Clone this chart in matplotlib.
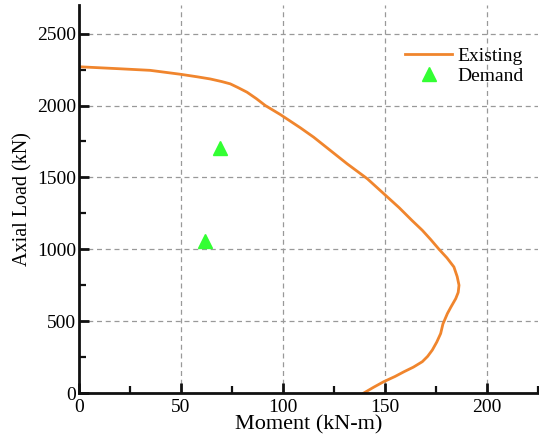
#!/usr/bin/env python3
"""P-M interaction diagram: existing column capacity vs demand points."""

import matplotlib

matplotlib.use("Agg")
import matplotlib.pyplot as plt
from matplotlib.ticker import MultipleLocator

# existing section capacity curve (moment kN-m, axial kN)
existing_moment = [0, 20, 34.9, 49.6, 58, 64.4, 70, 74.2, 78, 82.4, 87, 91.4, 98.8,
                   108.6, 115.1, 131.5, 141.4, 150.4, 157, 163.3, 168.4, 172.5,
                   176.6, 180.5, 183.9, 185.5, 186.4, 186, 184.8, 182.5, 180.7,
                   178.5, 177.4, 175.5, 173.3, 171, 168.4, 164, 159.4, 155, 149.5,
                   144.5, 139.7]
existing_axial = [2270, 2256, 2245, 2218, 2200, 2185, 2167, 2151, 2125, 2093, 2048,
                  2000, 1937, 1845, 1780, 1595, 1491, 1375, 1290, 1201, 1132, 1068,
                  1000, 940, 877, 810, 750, 700, 657, 600, 553,
                  480, 414, 355, 299, 255, 218, 180, 148, 115, 79,
                  40, 0]

# demand points
demand_moment = [69, 62]
demand_axial = [1705, 1060]

plt.rcParams["font.family"] = ["Liberation Serif", "DejaVu Serif"]

fig = plt.figure(figsize=(5.39, 4.38), dpi=100)
ax = fig.add_axes([0.1466, 0.1027, 0.851, 0.886])

ax.plot(existing_moment, existing_axial, color="#f0852d", lw=2.0, label="Existing",
        solid_joinstyle="round")
ax.plot(demand_moment, demand_axial, ls="none", marker="^", ms=10,
        color="#33ff33", label="Demand")

ax.set_xlim(0, 225)
ax.set_ylim(0, 2700)
ax.xaxis.set_major_locator(MultipleLocator(50))
ax.xaxis.set_minor_locator(MultipleLocator(25))
ax.yaxis.set_major_locator(MultipleLocator(500))
ax.yaxis.set_minor_locator(MultipleLocator(250))

ax.grid(True, which="major", ls=(0, (4, 3)), color="#999999", lw=0.9)
ax.set_axisbelow(True)

for side in ("top", "right"):
    ax.spines[side].set_visible(False)
for side in ("left", "bottom"):
    ax.spines[side].set_linewidth(2.0)
    ax.spines[side].set_color("#111111")

ax.tick_params(which="major", direction="in", length=7, width=2, labelsize=14,
               color="#111111")
ax.tick_params(axis="x", which="major", pad=4)
ax.tick_params(axis="y", which="major", pad=2)
ax.tick_params(which="minor", direction="in", length=5, width=1.6, color="#111111")

ax.set_xlabel("Moment (kN-m)", fontsize=16, labelpad=0)
ax.set_ylabel("Axial Load (kN)", fontsize=14.5, labelpad=3)

ax.legend(loc="upper right", frameon=False, fontsize=14, bbox_to_anchor=(1.0, 0.925),
          handlelength=2.4, handletextpad=0.3, labelspacing=0.1, borderaxespad=0.3)

fig.savefig("out.png", dpi=100)
